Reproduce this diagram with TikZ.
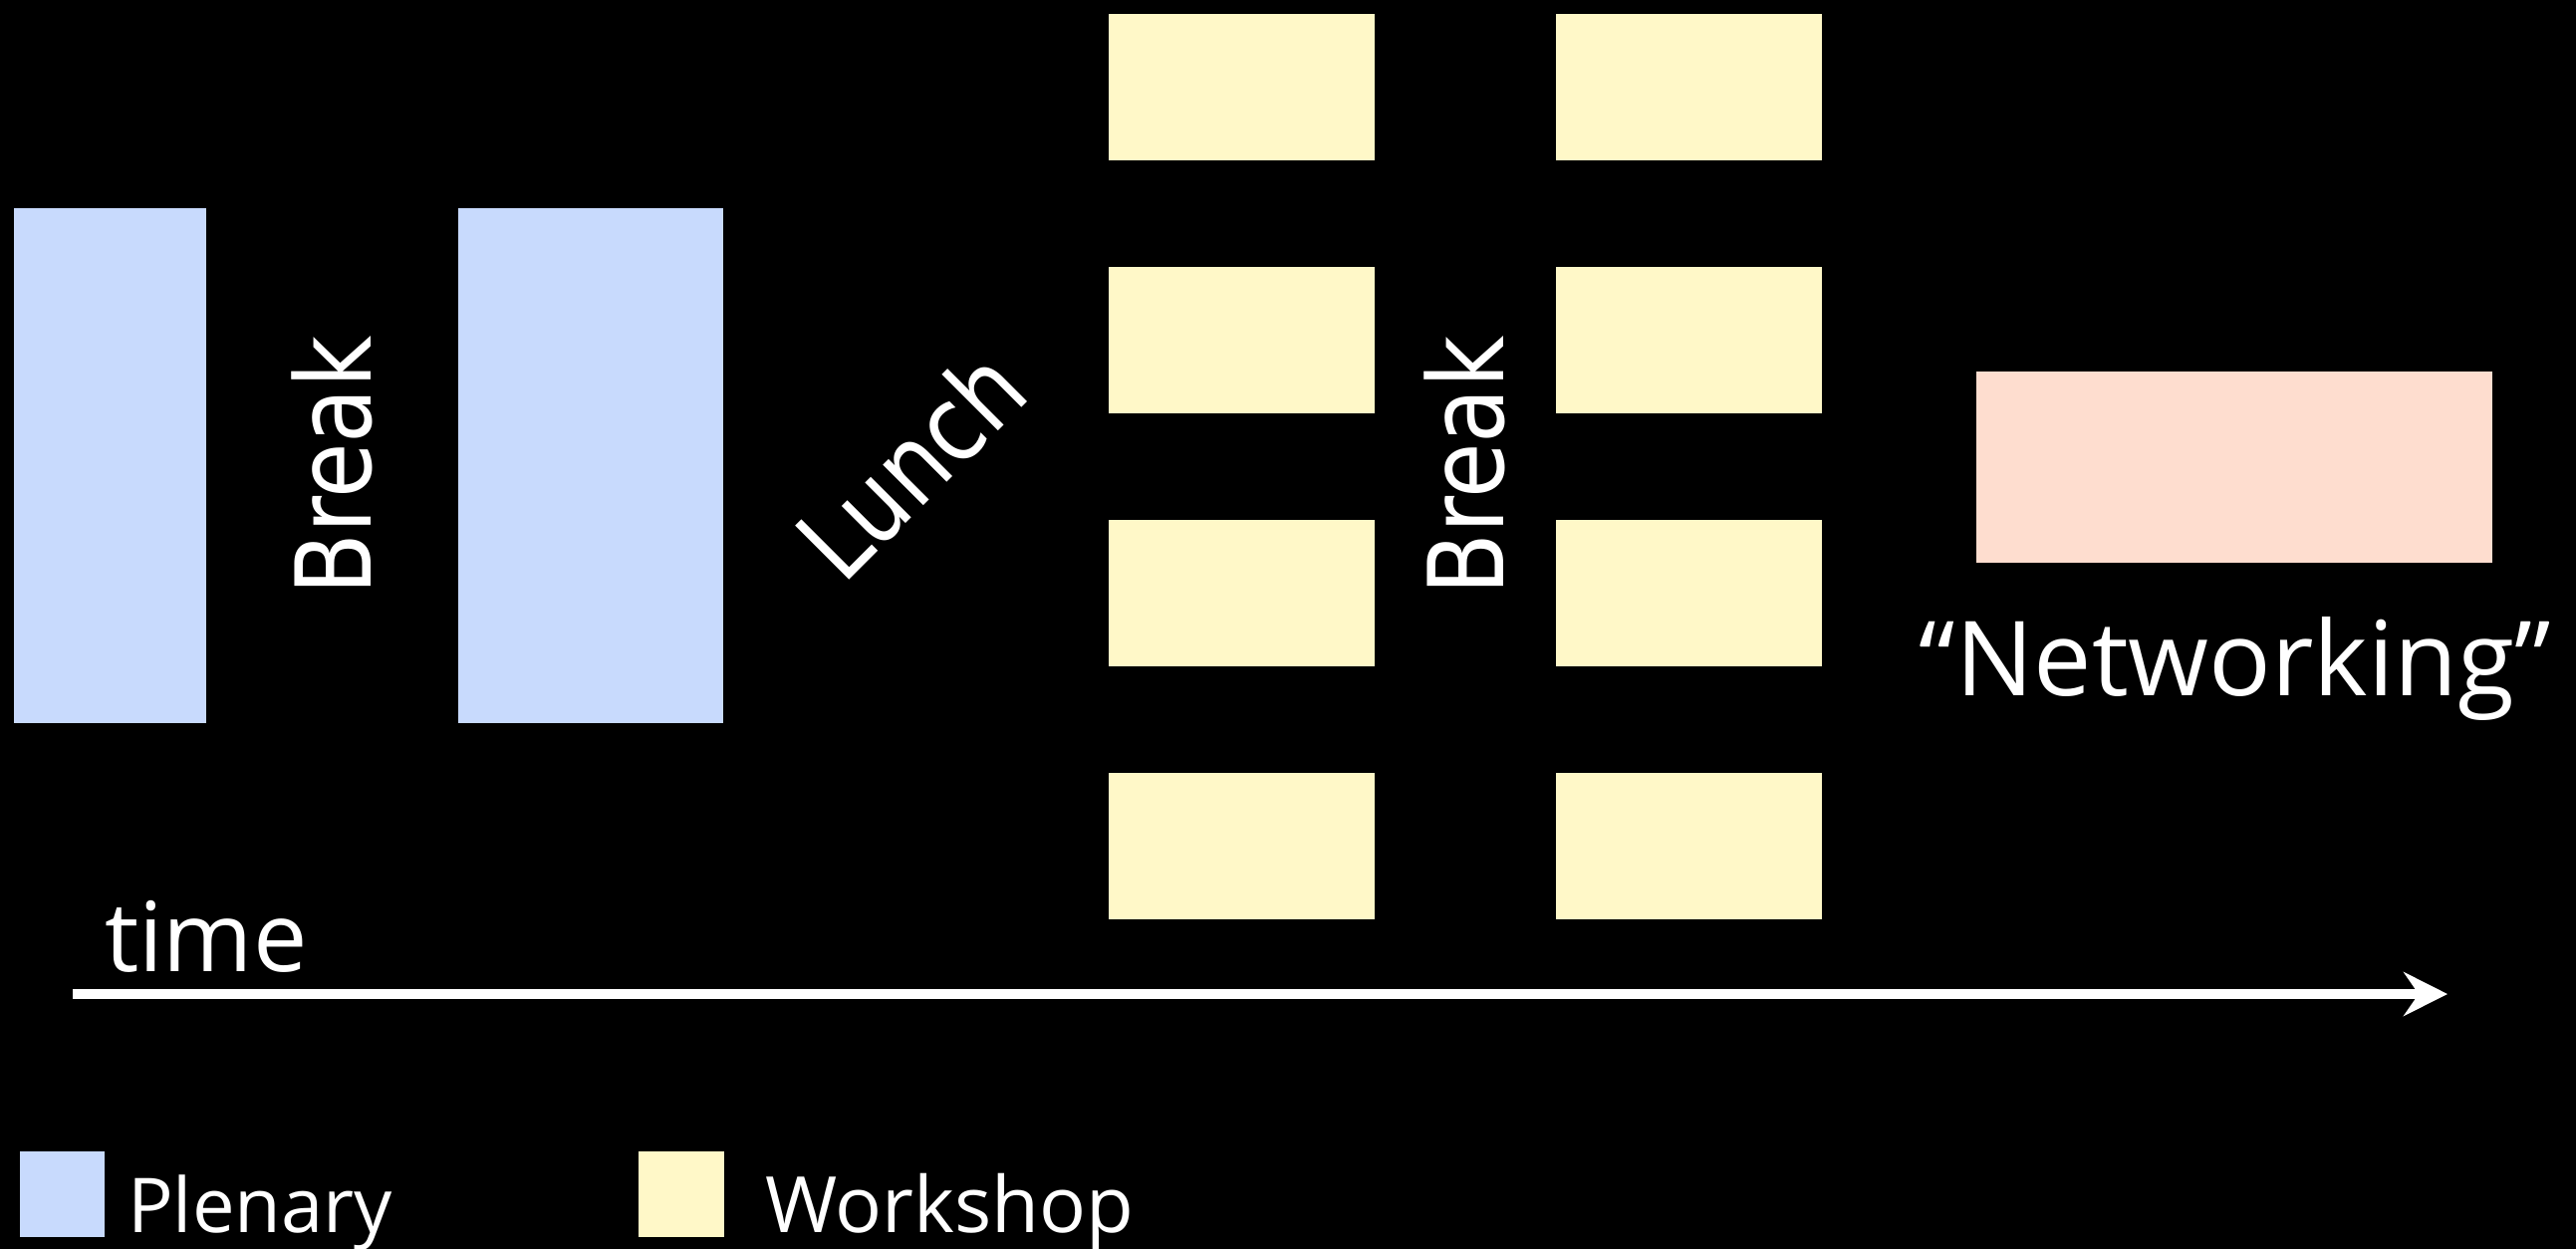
\documentclass[tikz,border=0pt]{standalone}
\usepackage{fontspec}
\setmainfont{Open Sans}
\newfontfamily\breakfont[FakeStretch=0.86]{DejaVu Sans}
\usetikzlibrary{arrows.meta}

\definecolor{plenaryfill}{RGB}{200,218,253}
\definecolor{workshopfill}{RGB}{255,248,200}
\definecolor{networkfill}{RGB}{254,221,207}

\begin{document}
\begin{tikzpicture}[x=1pt,y=-1pt,
  slot/.style={rectangle, draw=none, inner sep=0pt, outer sep=0pt, anchor=north west},
  plen/.style={slot, fill=plenaryfill},
  wshop/.style={slot, fill=workshopfill, minimum width=267pt, minimum height=147pt},
  netbox/.style={slot, fill=networkfill},
  pauselbl/.style={text=white, inner sep=0pt, anchor=base west,
    font=\breakfont\fontsize{105pt}{120pt}\selectfont},
  txt/.style={text=white, inner sep=0pt}]

% background and page size
\fill[black] (0,0) rectangle (2586,1254);
\useasboundingbox (0,0) rectangle (2586,1254);

% morning plenaries
\node[plen, minimum width=193pt, minimum height=517pt] (p1) at (14,209) {};
\node[plen, minimum width=266pt, minimum height=517pt] (p2) at (460,209) {};

% two rounds of parallel workshops
\foreach \c/\cx in {1/1113, 2/1562}
  \foreach \r/\ry in {1/14, 2/268, 3/522, 4/776}
    \node[wshop] (w\c\r) at (\cx,\ry) {};

% networking session
\node[netbox, minimum width=518pt, minimum height=192pt] (net) at (1984,373) {};
\node[txt, anchor=base, font=\fontsize{104pt}{120pt}\selectfont] (netlbl)
  at (2244,698) {“Networking”};

% pauses between sessions
\node[pauselbl, rotate=90] (brk1) at (372,598) {Break};
\node[pauselbl, rotate=45] (lunch) at (846,589) {Lunch};
\node[pauselbl, rotate=90] (brk2) at (1509,598) {Break};

% time axis
\coordinate (tstart) at (73,998);
\coordinate (tend) at (2457,998);
\draw[white, line width=10pt, -{Stealth[length=44pt, width=44pt, inset=15pt]}]
  (tstart) -- (tend);
\node[txt, anchor=base west, font=\fontsize{97pt}{115pt}\selectfont] (timelbl)
  at (105,975) {time};

% legend
\node[plen, minimum width=85pt, minimum height=86pt] (kp) at (20,1156) {};
\node[txt, anchor=base west, font=\fontsize{76pt}{90pt}\selectfont] (kplbl)
  at (128,1237) {Plenary};
\node[slot, fill=workshopfill, minimum width=86pt, minimum height=86pt] (kw) at (641,1156) {};
\node[txt, anchor=base west, font=\fontsize{78pt}{90pt}\selectfont] (kwlbl)
  at (768,1237) {Workshop};
\end{tikzpicture}
\end{document}
